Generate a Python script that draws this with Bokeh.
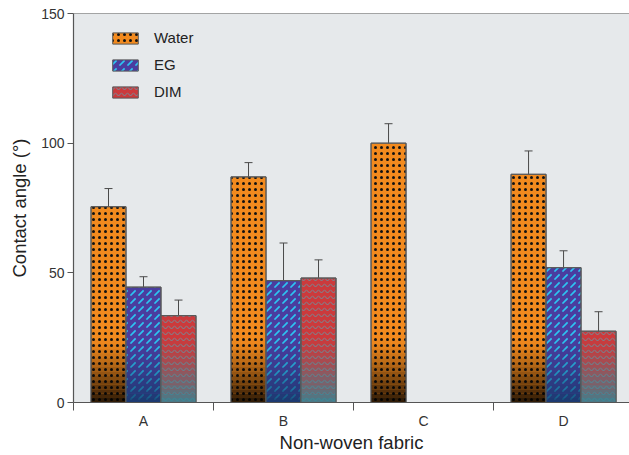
from bokeh.plotting import figure
from bokeh.models import Range1d, FixedTicker, Whisker, ColumnDataSource, Span, Legend, LegendItem, TeeHead
from bokeh.embed import file_html
from bokeh.resources import INLINE

fabrics = ["A", "B", "C", "D"]
water = [75.5, 87.0, 100.0, 88.0]
water_err = [7.0, 5.5, 7.5, 9.0]
eg = [44.5, 47.0, None, 52.0]
eg_err = [4.0, 14.5, None, 6.5]
dim = [33.5, 48.0, None, 27.5]
dim_err = [6.0, 7.0, None, 7.5]

series = [
    ("Water", water, water_err, -0.25, "#f28a1e", "dot", "#111111", 6, 1.0, "#000000"),
    ("EG", eg, eg_err, 0.0, "#4a3d9f", "right_diagonal_dash", "#2cc6f2", 8, 1.6, "#123a66"),
    ("DIM", dim, dim_err, 0.25, "#cc3a3c", "horizontal_wave", "#6f8e9a", 6, 1.0, "#2a8a9a"),
]
bar_w = 0.25
font = "Liberation Sans"

p = figure(width=629, height=455, x_range=Range1d(0, 3.971), y_range=Range1d(0, 150),
           output_backend="svg", toolbar_location=None,
           min_border_left=73, min_border_right=0, min_border_top=13, min_border_bottom=52)
p.background_fill_color = "#e6e9eb"
p.border_fill_color = "white"
p.outline_line_color = None
p.grid.visible = False

items = []
for name, vals, errs, off, col, hatch, hcol, hscale, hweight, shade in series:
    xs = [i + 0.5 + off for i, v in enumerate(vals) if v is not None]
    ys = [v for v in vals if v is not None]
    es = [e for v, e in zip(vals, errs) if v is not None]
    src = ColumnDataSource(dict(x=xs, top=ys, up=[y + e for y, e in zip(ys, es)],
                                lo=[y - e for y, e in zip(ys, es)]))
    r = p.vbar(x="x", top="top", width=bar_w, source=src, fill_color=col,
               line_color="#5a5a5a", line_width=1, hatch_pattern=hatch,
               hatch_color=hcol, hatch_scale=hscale, hatch_weight=hweight)
    items.append(LegendItem(label=name, renderers=[r]))
    # bottom darkening gradient (style)
    n = 14
    depth = 24.0
    for k in range(n):
        b = depth * k / n
        t = depth * (k + 1) / n
        a = 0.8 * (1 - k / n) ** 1.3
        p.quad(left=[x - bar_w / 2 for x in xs], right=[x + bar_w / 2 for x in xs],
               bottom=[b] * len(xs), top=[min(t, y) for y in ys],
               fill_color=shade, fill_alpha=a, line_color=None)
    p.vbar(x="x", top="top", width=bar_w, source=src, fill_color=None,
           line_color="#5a5a5a", line_width=1)
    w = Whisker(base="x", upper="up", lower="lo", source=src, line_color="#4a4a4a",
                line_width=1, upper_head=TeeHead(size=8, line_color="#4a4a4a", line_width=1),
                lower_head=None)
    p.add_layout(w)

leg = Legend(items=items, location=(36, 302), orientation="vertical",
             background_fill_alpha=0, border_line_color=None, margin=0, padding=0,
             spacing=10, glyph_width=32, glyph_height=14, label_height=14,
             label_text_font=font, label_text_font_size="15px", label_text_color="#222",
             label_standoff=13)
p.add_layout(leg)

p.add_layout(Span(location=150, dimension="width", line_color="#555555", line_width=1.2))

# axes
p.xaxis.ticker = FixedTicker(ticks=[0.5, 1.5, 2.5, 3.5], minor_ticks=[0, 1, 2, 3])
p.xaxis.major_label_overrides = {0.5: "A", 1.5: "B", 2.5: "C", 3.5: "D"}
p.xaxis.major_tick_out = 8
p.xaxis.minor_tick_out = 8
p.xaxis.minor_tick_in = 0
p.xaxis.minor_tick_line_color = "#555555"
p.xaxis.major_label_standoff = 2
p.xaxis.axis_label = "Non-woven fabric"
p.xaxis.axis_label_standoff = 0

p.yaxis.ticker = FixedTicker(ticks=[0, 50, 100, 150])
p.yaxis.minor_tick_line_color = None
p.yaxis.major_tick_out = 6
p.yaxis.major_tick_in = 0
p.yaxis.major_label_standoff = 3
p.yaxis.axis_label = "Contact angle (°)"
p.yaxis.axis_label_standoff = 8

for ax in (p.xaxis, p.yaxis):
    ax.axis_line_color = "#555555"
    ax.axis_line_width = 1.2
    ax.major_label_text_font = font
    ax.major_label_text_font_size = "14px"
    ax.major_label_text_color = "#333333"
    ax.axis_label_text_font = font
    ax.axis_label_text_font_size = "18.5px"
    ax.axis_label_text_font_style = "normal"
    ax.axis_label_text_color = "#222222"
p.yaxis.major_tick_line_color = "#555555"
p.xaxis.major_tick_line_color = None

open("out.html", "w").write(file_html(p, INLINE))
